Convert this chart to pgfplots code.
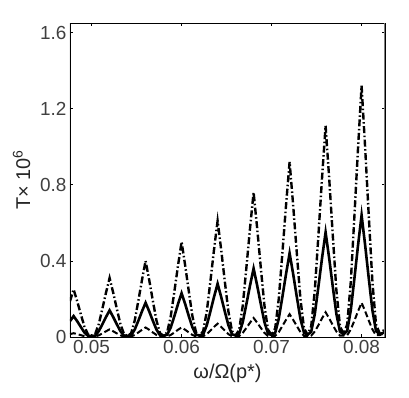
\documentclass[border=0pt]{standalone}
\usepackage{fontspec}
\setmainfont{Liberation Sans}
\usepackage{pgfplots}
\pgfplotsset{compat=1.18}

\begin{document}
\begin{tikzpicture}
\begin{axis}[
  scale only axis,
  width=315bp, height=314bp,
  xmin=0.0476, xmax=0.0826,
  ymin=0, ymax=1.65,
  xtick={0.05,0.06,0.07,0.08},
  xticklabels={0.05,0.06,0.07,0.08},
  ytick={0,0.4,0.8,1.2,1.6},
  yticklabels={0,0.4,0.8,1.2,1.6},
  scaled x ticks=false,
  tick align=inside,
  major tick length=3bp,
  tick style={black, line width=0.6pt},
  axis line style={black, line width=0.8pt},
  ticklabel style={font=\fontsize{19}{22}\selectfont, text=black!75},
  xlabel={ω/Ω(p*)},
  ylabel={T× 10\textsuperscript{6}},
  label style={font=\fontsize{20}{24}\selectfont, text=black!85},
  xlabel style={yshift=-3bp},
  ylabel style={yshift=3bp},
]
% dash-dot series
\addplot[black, line width=2.4bp, dash pattern=on 7bp off 2.5bp on 1.5bp off 2.5bp] coordinates {
(0.0476,0.188)(0.0480,0.25)(0.0484,0.188)(0.0488,0.120)(0.0492,0.055)(0.0496,0.013)(0.0500,0.006)
(0.0504,0.016)(0.0508,0.068)(0.0512,0.149)(0.0516,0.233)(0.0520,0.31)(0.0524,0.233)(0.0528,0.149)(0.0532,0.068)(0.0536,0.016)(0.0540,0.005)
(0.0544,0.020)(0.0548,0.088)(0.0552,0.192)(0.0556,0.300)(0.0560,0.40)(0.0564,0.300)(0.0568,0.192)(0.0572,0.088)(0.0576,0.020)(0.0580,0.006)
(0.0584,0.025)(0.0588,0.110)(0.0592,0.240)(0.0596,0.375)(0.0600,0.50)(0.0604,0.375)(0.0608,0.240)(0.0612,0.110)(0.0616,0.025)(0.0620,0.007)
(0.0624,0.031)(0.0628,0.134)(0.0632,0.293)(0.0636,0.458)(0.0640,0.61)(0.0644,0.458)(0.0648,0.293)(0.0652,0.134)(0.0656,0.031)(0.0660,0.008)
(0.0664,0.038)(0.0668,0.167)(0.0672,0.365)(0.0676,0.570)(0.0680,0.76)(0.0684,0.570)(0.0688,0.365)(0.0692,0.167)(0.0696,0.038)(0.0700,0.010)
(0.0704,0.046)(0.0708,0.202)(0.0712,0.442)(0.0716,0.690)(0.0720,0.92)(0.0724,0.690)(0.0728,0.442)(0.0732,0.202)(0.0736,0.046)(0.0740,0.012)
(0.0744,0.056)(0.0748,0.244)(0.0752,0.533)(0.0756,0.833)(0.0760,1.11)(0.0764,0.833)(0.0768,0.533)(0.0772,0.244)(0.0776,0.056)(0.0780,0.015)
(0.0784,0.066)(0.0788,0.290)(0.0792,0.634)(0.0796,0.990)(0.0800,1.32)(0.0804,0.990)(0.0808,0.634)(0.0812,0.290)(0.0816,0.066)(0.0820,0.020)(0.0826,0.040)
};
% solid series
\addplot[black, line width=2.6bp] coordinates {
(0.0476,0.083)(0.0480,0.11)(0.0484,0.083)(0.0488,0.053)(0.0492,0.024)(0.0496,0.006)(0.0500,0.005)
(0.0504,0.007)(0.0508,0.031)(0.0512,0.067)(0.0516,0.105)(0.0520,0.14)(0.0524,0.105)(0.0528,0.067)(0.0532,0.031)(0.0536,0.007)(0.0540,0.006)
(0.0544,0.009)(0.0548,0.040)(0.0552,0.086)(0.0556,0.135)(0.0560,0.18)(0.0564,0.135)(0.0568,0.086)(0.0572,0.040)(0.0576,0.009)(0.0580,0.007)
(0.0584,0.012)(0.0588,0.051)(0.0592,0.110)(0.0596,0.173)(0.0600,0.23)(0.0604,0.173)(0.0608,0.110)(0.0612,0.051)(0.0616,0.012)(0.0620,0.008)
(0.0624,0.014)(0.0628,0.062)(0.0632,0.134)(0.0636,0.210)(0.0640,0.28)(0.0644,0.210)(0.0648,0.134)(0.0652,0.062)(0.0656,0.014)(0.0660,0.009)
(0.0664,0.018)(0.0668,0.079)(0.0672,0.173)(0.0676,0.270)(0.0680,0.36)(0.0684,0.270)(0.0688,0.173)(0.0692,0.079)(0.0696,0.018)(0.0700,0.010)
(0.0704,0.022)(0.0708,0.097)(0.0712,0.211)(0.0716,0.330)(0.0720,0.44)(0.0724,0.330)(0.0728,0.211)(0.0732,0.097)(0.0736,0.022)(0.0740,0.012)
(0.0744,0.028)(0.0748,0.121)(0.0752,0.264)(0.0756,0.413)(0.0760,0.55)(0.0764,0.413)(0.0768,0.264)(0.0772,0.121)(0.0776,0.028)(0.0780,0.014)
(0.0784,0.032)(0.0788,0.141)(0.0792,0.307)(0.0796,0.480)(0.0800,0.64)(0.0804,0.480)(0.0808,0.307)(0.0812,0.141)(0.0816,0.032)(0.0820,0.015)(0.0826,0.025)
};
% dashed series
\addplot[black, line width=2bp, dash pattern=on 6bp off 3bp] coordinates {
(0.0476,0.015)(0.0480,0.02)(0.0484,0.015)(0.0488,0.010)(0.0492,0.004)(0.0496,0.002)(0.0500,0.003)
(0.0504,0.002)(0.0508,0.009)(0.0512,0.019)(0.0516,0.030)(0.0520,0.04)(0.0524,0.030)(0.0528,0.019)(0.0532,0.009)(0.0536,0.002)(0.0540,0.003)
(0.0544,0.003)(0.0548,0.011)(0.0552,0.024)(0.0556,0.038)(0.0560,0.05)(0.0564,0.038)(0.0568,0.024)(0.0572,0.011)(0.0576,0.003)(0.0580,0.003)
(0.0584,0.003)(0.0588,0.011)(0.0592,0.024)(0.0596,0.038)(0.0600,0.05)(0.0604,0.038)(0.0608,0.024)(0.0612,0.011)(0.0616,0.003)(0.0620,0.004)
(0.0624,0.004)(0.0628,0.015)(0.0632,0.034)(0.0636,0.053)(0.0640,0.07)(0.0644,0.053)(0.0648,0.034)(0.0652,0.015)(0.0656,0.004)(0.0660,0.004)
(0.0664,0.005)(0.0668,0.022)(0.0672,0.048)(0.0676,0.075)(0.0680,0.10)(0.0684,0.075)(0.0688,0.048)(0.0692,0.022)(0.0696,0.005)(0.0700,0.005)
(0.0704,0.006)(0.0708,0.026)(0.0712,0.058)(0.0716,0.090)(0.0720,0.12)(0.0724,0.090)(0.0728,0.058)(0.0732,0.026)(0.0736,0.006)(0.0740,0.006)
(0.0744,0.007)(0.0748,0.029)(0.0752,0.062)(0.0756,0.098)(0.0760,0.13)(0.0764,0.098)(0.0768,0.062)(0.0772,0.029)(0.0776,0.007)(0.0780,0.007)
(0.0784,0.009)(0.0788,0.040)(0.0792,0.086)(0.0796,0.135)(0.0800,0.18)(0.0804,0.135)(0.0808,0.086)(0.0812,0.040)(0.0816,0.009)(0.0820,0.010)(0.0826,0.020)
};
\draw[gray, line width=1bp] (rel axis cs:0,0) -- (rel axis cs:0,1);
\draw[gray, line width=1bp] (rel axis cs:1,0) -- (rel axis cs:1,1);
\end{axis}
\path (current axis.south west) ++(-70bp,-61bp);
\path (current axis.north east) ++(24bp,23bp);
\end{tikzpicture}
\end{document}
